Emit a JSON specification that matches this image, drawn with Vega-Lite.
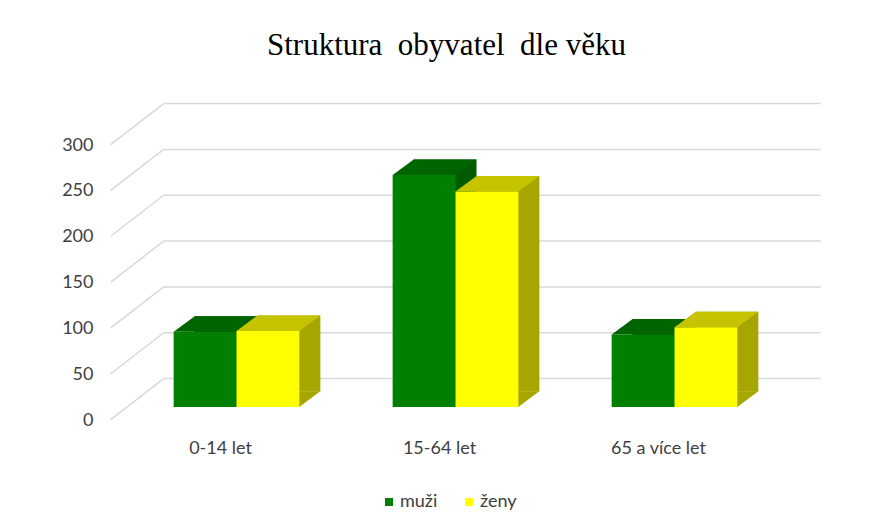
{
  "$schema": "https://vega.github.io/schema/vega-lite/v6.json",
  "width": 657,
  "height": 275,
  "autosize": "none",
  "padding": {"left": 127, "top": 132, "right": 85, "bottom": 120},
  "background": "white",
  "config": {"view": {"stroke": null}, "font": "Lato"},
  "title": {
    "text": "Struktura\u00a0 obyvatel\u00a0 dle věku",
    "font": "Liberation Serif",
    "fontSize": 31,
    "fontWeight": "normal",
    "color": "#000000",
    "anchor": "middle",
    "dx": -9,
    "offset": 41
  },
  "datasets": {
    "obyv": [
      {"kat": "0-14 let", "pohlavi": "muži", "pocet": 82},
      {"kat": "0-14 let", "pohlavi": "ženy", "pocet": 83},
      {"kat": "15-64 let", "pohlavi": "muži", "pocet": 253},
      {"kat": "15-64 let", "pohlavi": "ženy", "pocet": 235},
      {"kat": "65 a více let", "pohlavi": "muži", "pocet": 79},
      {"kat": "65 a více let", "pohlavi": "ženy", "pocet": 87}
    ],
    "grid": [{"v": 0}, {"v": 50}, {"v": 100}, {"v": 150}, {"v": 200}, {"v": 250}, {"v": 300}]
  },
  "data": {"name": "obyv"},
  "encoding": {
    "x": {
      "field": "kat", "type": "nominal", "sort": null,
      "scale": {"paddingInner": 0.426, "paddingOuter": 0.213},
      "axis": {"title": null, "domain": false, "ticks": false, "labelAngle": 0, "labelPadding": 32, "labelOffset": -16, "labelFontSize": 18, "labelColor": "#404040", "labelFont": "Lato"}
    },
    "y": {
      "field": "pocet", "type": "quantitative",
      "scale": {"domain": [0, 300], "nice": false},
      "axis": {"title": null, "domain": false, "ticks": false, "grid": false, "values": [0, 50, 100, 150, 200, 250, 300], "labelPadding": 34, "labelOffset": 13, "labelFontSize": 18, "labelColor": "#404040", "labelFont": "Lato"}
    }
  },
  "resolve": {"scale": {"xOffset": "independent"}},
  "layer": [
    {
      "data": {"name": "grid"},
      "mark": {"type": "rule", "color": "#d9d9d9", "strokeWidth": 1.5, "yOffset": 12.6, "y2Offset": -28.4},
      "encoding": {
        "x": {"value": -16.3},
        "x2": {"value": 36.7},
        "y": {"field": "v", "type": "quantitative"},
        "y2": {"field": "v"}
      }
    },
    {
      "data": {"name": "grid"},
      "mark": {"type": "rule", "color": "#d9d9d9", "strokeWidth": 1.5, "yOffset": -28.4},
      "encoding": {
        "x": {"value": 36.7},
        "x2": {"value": 693.7},
        "y": {"field": "v", "type": "quantitative"}
      }
    },
    {
      "transform": [{"filter": "datum.pohlavi === 'muži'"}],
      "mark": {"type": "bar", "color": "#005a00", "yOffset": -15.5, "y2Offset": -15.5},
      "encoding": {"xOffset": {"field": "pohlavi", "scale": {"domain": ["muži", "ženy"], "range": [21, 146.71]}}}
    },
    {
      "transform": [{"filter": "datum.pohlavi === 'muži'"}],
      "mark": {"type": "point", "shape": "M 0.62 -0.315 L 1.048 -0.315 L 0.62 0.005 Z", "size": 10000, "filled": true, "opacity": 1, "strokeWidth": 0, "color": "#005a00"},
      "encoding": {"xOffset": {"field": "pohlavi", "scale": {"domain": ["muži", "ženy"]}}, "y": {"datum": 0}}
    },
    {
      "transform": [{"filter": "datum.pohlavi === 'muži'"}],
      "mark": {"type": "bar"},
      "encoding": {
        "xOffset": {"field": "pohlavi", "scale": {"domain": ["muži", "ženy"]}},
        "color": {"field": "pohlavi", "type": "nominal", "scale": {"domain": ["muži", "ženy"], "range": ["#008000", "#ffff00"]},
          "legend": {"title": null, "orient": "none", "direction": "horizontal", "legendX": 253, "legendY": 361, "symbolType": "square", "symbolSize": 64, "labelFontSize": 18, "labelColor": "#404040", "labelFont": "Lato", "columnPadding": 22, "labelOffset": 2}}
      }
    },
    {
      "transform": [{"filter": "datum.pohlavi === 'muži'"}],
      "mark": {"type": "point", "shape": "M -0.628 0 L 0.628 0 L 1.048 -0.31 L -0.208 -0.31 Z", "size": 10000, "filled": true, "opacity": 1, "strokeWidth": 0, "color": "#006400"},
      "encoding": {"xOffset": {"field": "pohlavi", "scale": {"domain": ["muži", "ženy"]}}}
    },
    {
      "transform": [{"filter": "datum.pohlavi === 'ženy'"}],
      "mark": {"type": "bar", "color": "#a6a600", "yOffset": -15.5, "y2Offset": -15.5},
      "encoding": {"xOffset": {"field": "pohlavi", "scale": {"domain": ["muži", "ženy"], "range": [21, 146.71]}}}
    },
    {
      "transform": [{"filter": "datum.pohlavi === 'ženy'"}],
      "mark": {"type": "point", "shape": "M 0.62 -0.315 L 1.048 -0.315 L 0.62 0.005 Z", "size": 10000, "filled": true, "opacity": 1, "strokeWidth": 0, "color": "#a6a600"},
      "encoding": {"xOffset": {"field": "pohlavi", "scale": {"domain": ["muži", "ženy"]}}, "y": {"datum": 0}}
    },
    {
      "transform": [{"filter": "datum.pohlavi === 'ženy'"}],
      "mark": {"type": "bar"},
      "encoding": {
        "xOffset": {"field": "pohlavi", "scale": {"domain": ["muži", "ženy"]}},
        "color": {"field": "pohlavi", "type": "nominal", "scale": {"domain": ["muži", "ženy"], "range": ["#008000", "#ffff00"]}}
      }
    },
    {
      "transform": [{"filter": "datum.pohlavi === 'ženy'"}],
      "mark": {"type": "point", "shape": "M -0.628 0 L 0.628 0 L 1.048 -0.31 L -0.208 -0.31 Z", "size": 10000, "filled": true, "opacity": 1, "strokeWidth": 0, "color": "#c6c300"},
      "encoding": {"xOffset": {"field": "pohlavi", "scale": {"domain": ["muži", "ženy"]}}}
    }
  ]
}
